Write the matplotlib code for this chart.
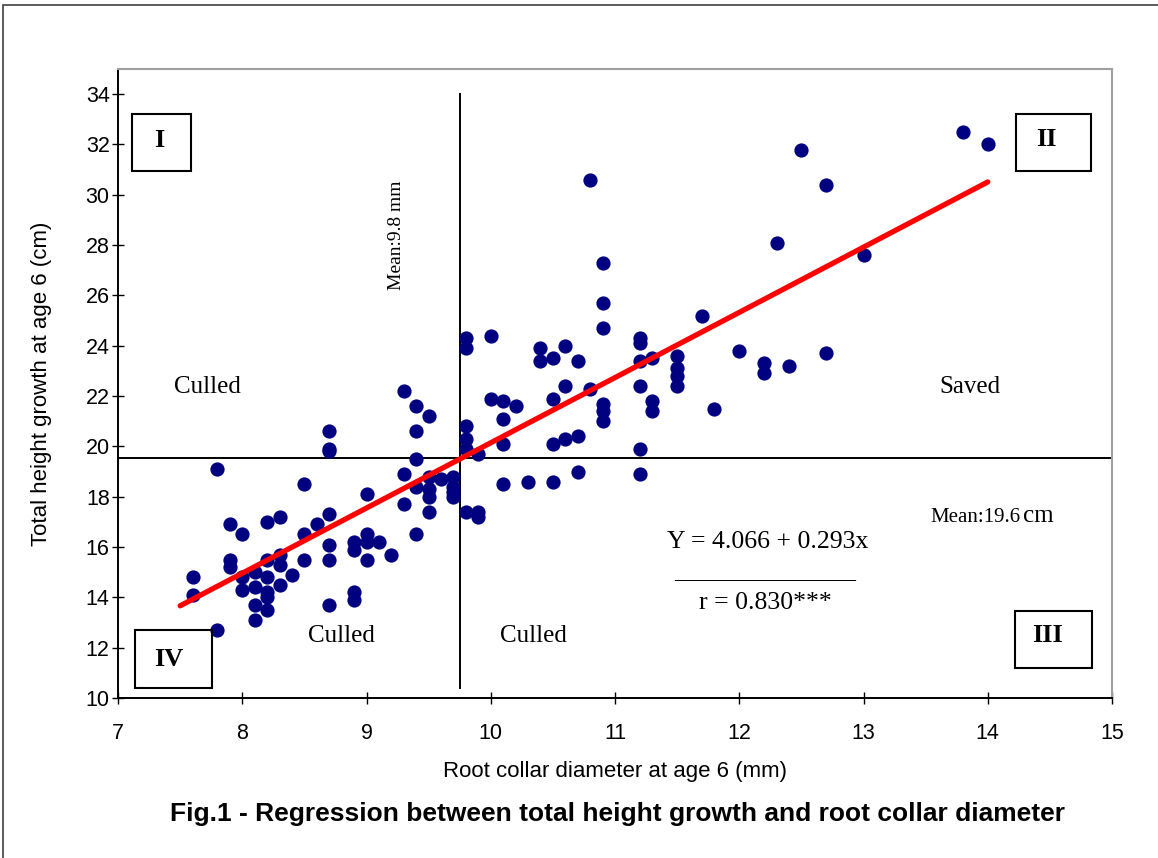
import numpy as np
import matplotlib
matplotlib.use('Agg')
import matplotlib.pyplot as plt
from matplotlib.patches import Rectangle

# Root collar diameter (mm) and total height growth (cm) at age 6
diameter = [7.6, 7.6, 7.8, 7.8, 7.9, 7.9, 7.9, 8.0, 8.0, 8.0,
            8.1, 8.1, 8.1, 8.1, 8.2, 8.2, 8.2, 8.2, 8.2, 8.2,
            8.3, 8.3, 8.3, 8.3, 8.4, 8.5, 8.5, 8.5, 8.6,
            8.7, 8.7, 8.7, 8.7, 8.7, 8.7, 8.7,
            8.9, 8.9, 8.9, 8.9, 9.0, 9.0, 9.0, 9.0, 9.1, 9.2,
            9.3, 9.3, 9.3, 9.4, 9.4, 9.4, 9.4, 9.4,
            9.5, 9.5, 9.5, 9.5, 9.5, 9.6, 9.7, 9.7, 9.7, 9.7,
            9.8, 9.8, 9.8, 9.8, 9.8, 9.8, 9.9, 9.9, 9.9,
            10.0, 10.0, 10.1, 10.1, 10.1, 10.1, 10.2, 10.3,
            10.4, 10.4, 10.5, 10.5, 10.5, 10.5, 10.6, 10.6, 10.6,
            10.7, 10.7, 10.7, 10.8, 10.8,
            10.9, 10.9, 10.9, 10.9, 10.9, 10.9,
            11.2, 11.2, 11.2, 11.2, 11.2, 11.2, 11.3, 11.3, 11.3,
            11.5, 11.5, 11.5, 11.5, 11.7, 11.8, 12.0, 12.2, 12.2,
            12.3, 12.4, 12.5, 12.7, 12.7, 13.0, 13.8, 14.0]
height = [14.8, 14.1, 19.1, 12.7, 16.9, 15.5, 15.2, 16.5, 14.8, 14.3,
          15.0, 14.4, 13.7, 13.1, 17.0, 15.5, 14.8, 14.2, 14.0, 13.5,
          17.2, 15.7, 15.3, 14.5, 14.9, 18.5, 16.5, 15.5, 16.9,
          20.6, 19.9, 19.8, 17.3, 16.1, 15.5, 13.7,
          16.2, 15.9, 14.2, 13.9, 18.1, 16.5, 16.2, 15.5, 16.2, 15.7,
          22.2, 18.9, 17.7, 21.6, 20.6, 19.5, 18.4, 16.5,
          21.2, 18.8, 18.3, 18.0, 17.4, 18.7, 18.8, 18.4, 18.0, 18.2,
          24.3, 23.9, 20.8, 20.3, 19.9, 17.4, 19.7, 17.4, 17.2,
          24.4, 21.9, 21.8, 21.1, 20.1, 18.5, 21.6, 18.6,
          23.9, 23.4, 23.5, 21.9, 20.1, 18.6, 24.0, 22.4, 20.3,
          23.4, 20.4, 19.0, 30.6, 22.3,
          27.3, 25.7, 24.7, 21.7, 21.4, 21.0,
          24.3, 24.1, 23.4, 22.4, 19.9, 18.9, 23.5, 21.8, 21.4,
          23.6, 23.1, 22.8, 22.4, 25.2, 21.5, 23.8, 23.3, 22.9,
          28.1, 23.2, 31.8, 30.4, 23.7, 27.6, 32.5, 32.0]

mean_diameter = 9.75
mean_height = 19.55

serif = 'Liberation Serif'
sans = 'Liberation Sans'

fig = plt.figure(figsize=(11.58, 8.58), dpi=100)
ax = fig.add_axes([118/1158, 1 - 698/858, (1112-118)/1158, (698-69)/858])

# scatter points
ax.scatter(diameter, height, s=105, color='#000080', zorder=3, linewidths=0)

# regression line fitted on the data
slope, intercept = np.polyfit(diameter, height, 1)
xfit = np.array([7.5, 14.0])
ax.plot(xfit, intercept + slope * xfit, color='#ff0000', lw=3.8, zorder=4,
        solid_capstyle='round')

# mean lines
ax.plot([mean_diameter, mean_diameter], [10.4, 34], color='black', lw=1.4, zorder=2)
ax.axhline(mean_height, color='black', lw=1.4, zorder=2)

ax.set_xlim(7, 15)
ax.set_ylim(10, 35)
ax.set_xticks(range(7, 16))
ax.set_yticks(range(10, 35, 2))
ax.tick_params(direction='inout', length=8, width=1, labelsize=15.5)
ax.tick_params(axis='x', pad=14)
ax.tick_params(axis='y', pad=2)
for lab in ax.get_xticklabels() + ax.get_yticklabels():
    lab.set_family(sans)
ax.spines['left'].set_linewidth(1.4)
ax.spines['bottom'].set_linewidth(1.4)
ax.spines['top'].set_color('#a0a0a0')
ax.spines['right'].set_color('#a0a0a0')
ax.spines['top'].set_linewidth(1.5)
ax.spines['right'].set_linewidth(1.5)

# quadrant boxes
boxes = [((7.11, 30.93), 0.48, 2.30, 'I', (7.33, 32.17)),
         ((14.225, 30.93), 0.61, 2.30, 'II', (14.47, 32.2)),
         ((14.216, 11.2), 0.62, 2.26, 'III', (14.48, 12.5)),
         ((7.137, 10.4), 0.62, 2.30, 'IV', (7.41, 11.55))]
for (x0, y0), w, h, lab, (tx, ty) in boxes:
    ax.add_patch(Rectangle((x0, y0), w, h, fill=False, ec='black', lw=1.5, zorder=5))
    ax.text(tx, ty, lab, family=serif, fontweight='bold', fontsize=19,
            ha='center', va='center', zorder=6)

for tx, ty, lab in [(7.72, 22.36, 'Culled'), (13.86, 22.36, 'Saved'),
                    (8.80, 12.46, 'Culled'), (10.34, 12.46, 'Culled')]:
    ax.text(tx, ty, lab, family=serif, fontsize=18, ha='center', va='center')

ax.text(9.245, 28.4, 'Mean:9.8 mm', family=serif, fontsize=14, rotation=90,
        ha='center', va='center')
ax.text(14.26, 17.0, 'Mean:19.6', family=serif, fontsize=15, ha='right', va='baseline')
ax.text(14.28, 17.0, 'cm', family=serif, fontsize=18, ha='left', va='baseline')

# regression equation
ax.text(12.23, 16.2, 'Y = 4.066 + 0.293x', family=serif, fontsize=18.5,
        ha='center', va='center')
ax.text(12.21, 14.8, '______________', family=serif, fontsize=18.5,
        ha='center', va='baseline')
ax.text(12.21, 13.77, 'r = 0.830***', family=serif, fontsize=18.5,
        ha='center', va='center')

ax.set_xlabel('Root collar diameter at age 6 (mm)', family=sans, fontsize=16, labelpad=12)
ax.set_ylabel('Total height growth at age 6 (cm)', family=sans, fontsize=16, labelpad=24)

fig.text(618/1158, 1 - 814/858, 'Fig.1 - Regression between total height growth and root collar diameter',
         family=sans, fontweight='bold', fontsize=19, ha='center', va='center')

# outer chart border
fig.patches.append(Rectangle((3/1158, -0.01), 1.1, 1.01 - 5/858, transform=fig.transFigure,
                             fill=False, ec='#404040', lw=1.2))

fig.savefig('out.png', dpi=100)
